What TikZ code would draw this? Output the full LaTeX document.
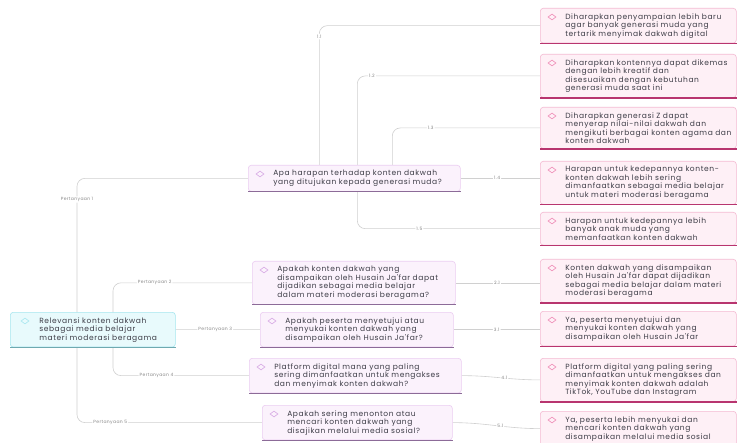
\documentclass[tikz,border=0pt]{standalone}
\usepackage{fontspec}
\newfontfamily\mapfont[LetterSpace=8]{Poppins}
\usetikzlibrary{backgrounds}
\usetikzlibrary{shapes.geometric}

\definecolor{textgray}{HTML}{3C3C46}
\definecolor{linkgray}{HTML}{D0D0D0}
\definecolor{lblgray}{HTML}{8A8A8A}
\definecolor{rootfill}{HTML}{E8FAFC}
\definecolor{rootline}{HTML}{A6E6EF}
\definecolor{rootshade}{HTML}{6FA9B0}
\definecolor{qfill}{HTML}{FBF2FC}
\definecolor{qline}{HTML}{EBCDF1}
\definecolor{qshade}{HTML}{8C6B98}
\definecolor{qicon}{HTML}{D5A6E3}
\definecolor{afill}{HTML}{FEF0F6}
\definecolor{aline}{HTML}{F4BAD2}
\definecolor{ashade}{HTML}{B8356F}
\definecolor{aicon}{HTML}{EE88B4}

\tikzset{
  box/.style={draw, rounded corners=3pt, line width=0.6pt, anchor=north west,
    align=left, inner xsep=5pt, inner ysep=5pt, text=textgray,
    font={\mapfont\fontsize{7.5}{8.5}\selectfont},
    execute at begin node={\leftskip=20pt}},
  rootbox/.style={box, fill=rootfill, draw=rootline, text width=155pt,
    execute at begin node={\leftskip=24pt}},
  qbox/.style={box, fill=qfill, draw=qline},
  abox/.style={box, fill=afill, draw=aline, text width=186pt},
  link/.style={linkgray, line width=0.6pt, rounded corners=8pt},
  lbl/.style={fill=white, text=lblgray, inner sep=1pt,
    font={\mapfont\fontsize{4.5}{5}\selectfont}},
  icon/.style={diamond, draw, line width=0.6pt, minimum width=8pt,
    minimum height=6pt, inner sep=0pt},
}

\begin{document}
\begin{tikzpicture}[x=1pt,y=-1pt]

  \useasboundingbox (0,0) rectangle (738,443);

  \node[rootbox] (root) at (10,312) {Relevansi konten dakwah\\ sebagai media belajar\\ materi moderasi beragama};

  \node[qbox, text width=202pt] (q1) at (248,165) {Apa harapan terhadap konten dakwah\\ yang ditujukan kepada generasi muda?};
  \node[qbox, text width=193pt] (q2) at (252,261) {Apakah konten dakwah yang\\ disampaikan oleh Husain Ja'far dapat\\ dijadikan sebagai media belajar\\ dalam materi moderasi beragama?};
  \node[qbox, text width=183pt] (q3) at (260,312) {Apakah peserta menyetujui atau\\ menyukai konten dakwah yang\\ disampaikan oleh Husain Ja'far?};
  \node[qbox, text width=202pt] (q4) at (249,358) {Platform digital mana yang paling\\ sering dimanfaatkan untuk mengakses\\ dan menyimak konten dakwah?};
  \node[qbox, text width=180pt] (q5) at (262,405) {Apakah sering menonton atau\\ mencari konten dakwah yang\\ disajikan melalui media sosial?};

  \node[abox] (a1) at (540,8) {Diharapkan penyampaian lebih baru\\ agar banyak generasi muda yang\\ tertarik menyimak dakwah digital};
  \node[abox] (a2) at (540,54) {Diharapkan kontennya dapat dikemas\\ dengan lebih kreatif dan\\ disesuaikan dengan kebutuhan\\ generasi muda saat ini};
  \node[abox] (a3) at (540,107) {Diharapkan generasi Z dapat\\ menyerap nilai-nilai dakwah dan\\ mengikuti berbagai konten agama dan\\ konten dakwah};
  \node[abox] (a4) at (540,161) {Harapan untuk kedepannya konten-\\ konten dakwah lebih sering\\ dimanfaatkan sebagai media belajar\\ untuk materi moderasi beragama};
  \node[abox] (a5) at (540,212) {Harapan untuk kedepannya lebih\\ banyak anak muda yang\\ memanfaatkan konten dakwah};
  \node[abox] (a6) at (540,259) {Konten dakwah yang disampaikan\\ oleh Husain Ja'far dapat dijadikan\\ sebagai media belajar dalam materi\\ moderasi beragama};
  \node[abox] (a7) at (540,311) {Ya, peserta menyetujui dan\\ menyukai konten dakwah yang\\ disampaikan oleh Husain Ja'far};
  \node[abox] (a8) at (540,358) {Platform digital yang paling sering\\ dimanfaatkan untuk mengakses dan\\ menyimak konten dakwah adalah\\ TikTok, YouTube dan Instagram};
  \node[abox] (a9) at (540,411) {Ya, peserta lebih menyukai dan\\ mencari konten dakwah yang\\ disampaikan melalui media sosial};

  \node[icon, draw=rootline] (icon-root) at ([xshift=15pt,yshift=-9pt]root.north west) {};
  \draw[rootshade, line width=1.5pt] (root.south west) -- (root.south east);
  \foreach \n in {q1,q2,q3,q4,q5} {
    \node[icon, draw=qicon] (icon-\n) at ([xshift=12pt,yshift=-9pt]\n.north west) {};
    \draw[qshade, line width=1.5pt] (\n.south west) -- (\n.south east);
  }
  \foreach \n in {a1,a2,a3,a4,a5,a6,a7,a8,a9} {
    \node[icon, draw=aicon] (icon-\n) at ([xshift=12pt,yshift=-9pt]\n.north west) {};
    \draw[ashade, line width=1.5pt] (\n.south west) -- (\n.south east);
  }

  \begin{scope}[on background layer]
    \fill[white] (0,0) rectangle (738,443);

    \draw[link] ([xshift=67pt]root.west) |- (q1.west) node[lbl, pos=0.43] (l1) {Pertanyaan 1};
    \draw[link] ([xshift=103pt]root.west) |- (q2.west) node[lbl, pos=0.65] (l2) {Pertanyaan 2};
    \draw[link] (root.east) -- (q3.west) node[lbl, pos=0.47] (l3) {Pertanyaan 3};
    \draw[link] ([xshift=103pt]root.west) |- (q4.west) node[lbl, pos=0.66] (l4) {Pertanyaan 4};
    \draw[link] ([xshift=67pt]root.west) |- (q5.west) node[lbl, pos=0.59] (l5) {Pertanyaan 5};

    \draw[link] ([xshift=-35pt]q1.north) |- (a1.west) node[lbl, pos=0.46] (l11) {1.1};
    \draw[link] ([xshift=3pt]q1.north) |- (a2.west) node[lbl, pos=0.54] (l12) {1.2};
    \draw[link] ([xshift=38pt]q1.north) |- (a3.west) node[lbl, pos=0.63] (l13) {1.3};
    \draw[link] (q1.east) -- (q1.east -| a4.west) node[lbl, pos=0.46] (l14) {1.4};
    \draw[link] ([xshift=3pt]q1.south) |- (a5.west) node[lbl, pos=0.67] (l15) {1.5};

    \draw[link] (q2.east) -- (q2.east -| a6.west) node[lbl, pos=0.49] (l21) {2.1};
    \draw[link] (q3.east) -- (q3.east -| a7.west) node[lbl, pos=0.5] (l31) {3.1};
    \draw[link] (q4.east) to[out=0,in=180] node[lbl, pos=0.55] (l41) {4.1} (a8.west);
    \draw[link] (q5.east) to[out=0,in=180] node[lbl, pos=0.55] (l51) {5.1} (a9.west);
  \end{scope}

\end{tikzpicture}
\end{document}
